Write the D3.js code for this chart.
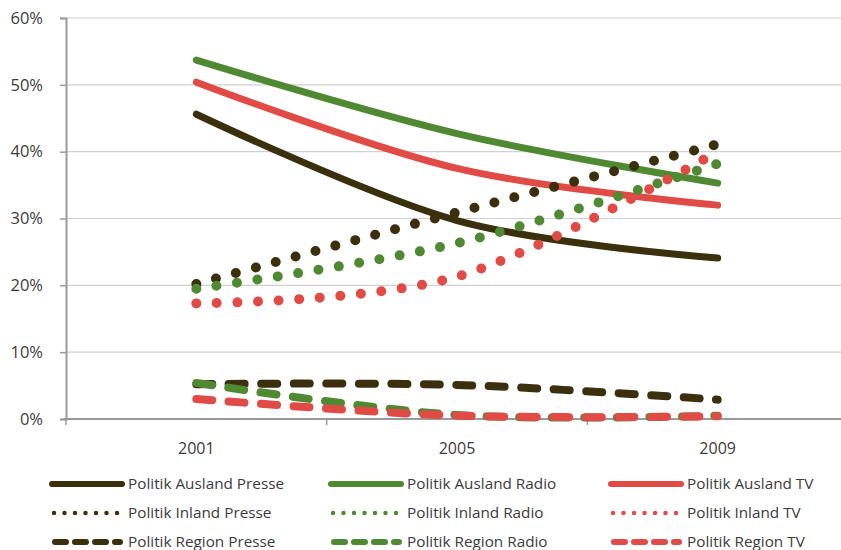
<!DOCTYPE html>
<html>
<head>
<meta charset="utf-8">
<script src="https://cdn.jsdelivr.net/npm/d3@7"></script>
<style>
  body { margin: 0; background: #fff; }
  text { font-family: "Open Sans", "Noto Sans", sans-serif; fill: #3c3c3c; }
</style>
</head>
<body>
<div id="chart"></div>
<script>
//Datos
const years = ['2001', '2005', '2009'];
const yTicks = [0, 10, 20, 30, 40, 50, 60];

const auslandPresse = [45.6, 29.7, 24.1];
const auslandRadio = [53.7, 42.7, 35.3];
const auslandTV = [50.4, 37.5, 32.0];
const inlandPresse = [20.2, 30.9, 41.1];
const inlandRadio = [19.5, 26.3, 38.2];
const inlandTV = [17.3, 21.3, 40.0];
const regionPresse = [5.2, 5.1, 2.9];
const regionRadio = [5.4, 0.6, 0.5];
const regionTV = [3.0, 0.5, 0.4];

const seriesNames = [
  'Politik Ausland Presse', 'Politik Ausland Radio', 'Politik Ausland TV',
  'Politik Inland Presse', 'Politik Inland Radio', 'Politik Inland TV',
  'Politik Region Presse', 'Politik Region Radio', 'Politik Region TV'
];
const seriesValues = [auslandPresse, auslandRadio, auslandTV, inlandPresse, inlandRadio, inlandTV, regionPresse, regionRadio, regionTV];

//Colores y estilos
const COLOR_PRESSE = '#3a300e', COLOR_RADIO = '#4f8a32', COLOR_TV = '#e04b45';
const colors = [COLOR_PRESSE, COLOR_RADIO, COLOR_TV];

const width = 841, height = 550;

const svg = d3.select('#chart').append('svg')
  .attr('width', width).attr('height', height);

let x = d3.scaleBand().domain(years).range([66, 848]);
let y = d3.scaleLinear().domain([0, 60]).range([419, 18]);

//Rejilla
svg.append('g').selectAll('line')
  .data(yTicks.filter(d => d > 0))
  .enter().append('line')
  .attr('x1', 66).attr('x2', width)
  .attr('y1', d => y(d)).attr('y2', d => y(d))
  .attr('stroke', '#d0d0d0').attr('stroke-width', 1.2);

//Eje Y
let yAxis = svg.append('g')
  .attr('transform', 'translate(66,0)')
  .call(d3.axisLeft(y).tickValues(yTicks).tickFormat(d => d + '%').tickSize(6).tickPadding(17));
yAxis.select('.domain').attr('stroke', '#9a9a9e').attr('stroke-width', 2);
yAxis.selectAll('.tick line').attr('stroke', '#9a9a9e').attr('stroke-width', 1.5);
yAxis.selectAll('.tick text').style('font-size', '16.5px').attr('fill', '#3c3c3c');

//Eje X
let xAxis = svg.append('g')
  .attr('transform', 'translate(0,419)')
  .call(d3.axisBottom(x).tickSize(0).tickPadding(24));
xAxis.select('.domain').remove();
xAxis.selectAll('.tick text').style('font-size', '16px').attr('fill', '#3c3c3c');

svg.append('line')
  .attr('x1', 64).attr('x2', width)
  .attr('y1', 419).attr('y2', 419)
  .attr('stroke', '#9a9a9e').attr('stroke-width', 2);

svg.append('g').selectAll('line')
  .data(years)
  .enter().append('line')
  .attr('x1', d => x(d)).attr('x2', d => x(d))
  .attr('y1', 419).attr('y2', 425)
  .attr('stroke', '#9a9a9e').attr('stroke-width', 1.5);

//Líneas
const line = d3.line()
  .x((d, i) => x(years[i]) + x.bandwidth() / 2)
  .y(d => y(d))
  .curve(d3.curveCardinal.tension(0));

function styleFor(i) {
  const group = Math.floor(i / 3);
  if (group === 0) return { width: 7, dash: null };
  if (group === 1) return { width: 10, dash: '0,20.6' };
  return { width: 8, dash: '16,16.5' };
}

seriesValues.forEach(function(vals, i) {
  const st = styleFor(i);
  svg.append('path')
    .datum(vals)
    .attr('d', line)
    .attr('fill', 'none')
    .attr('stroke', colors[i % 3])
    .attr('stroke-width', st.width)
    .attr('stroke-linecap', 'round')
    .attr('stroke-dasharray', st.dash);
});

//Leyenda
const legendX = [52, 331, 611], legendY = [484, 513, 542];
seriesNames.forEach(function(name, i) {
  const col = i % 3, row = Math.floor(i / 3);
  const lx = legendX[col], ly = legendY[row];
  let g = svg.append('g');
  let seg = g.append('line')
    .attr('x1', lx).attr('x2', lx + 70)
    .attr('y1', ly).attr('y2', ly)
    .attr('stroke', colors[col])
    .attr('stroke-linecap', 'round');
  if (row === 0) seg.attr('stroke-width', 6);
  if (row === 1) seg.attr('stroke-width', 4.5).attr('stroke-dasharray', '0,10.5').attr('x1', lx + 2).attr('x2', lx + 66);
  if (row === 2) seg.attr('stroke-width', 6).attr('stroke-dasharray', '11,9').attr('x1', lx + 3).attr('x2', lx + 68);
  g.append('text')
    .attr('x', lx + 76).attr('y', ly + 5)
    .style('font-size', '15.3px')
    .text(name);
});
</script>
</body>
</html>
